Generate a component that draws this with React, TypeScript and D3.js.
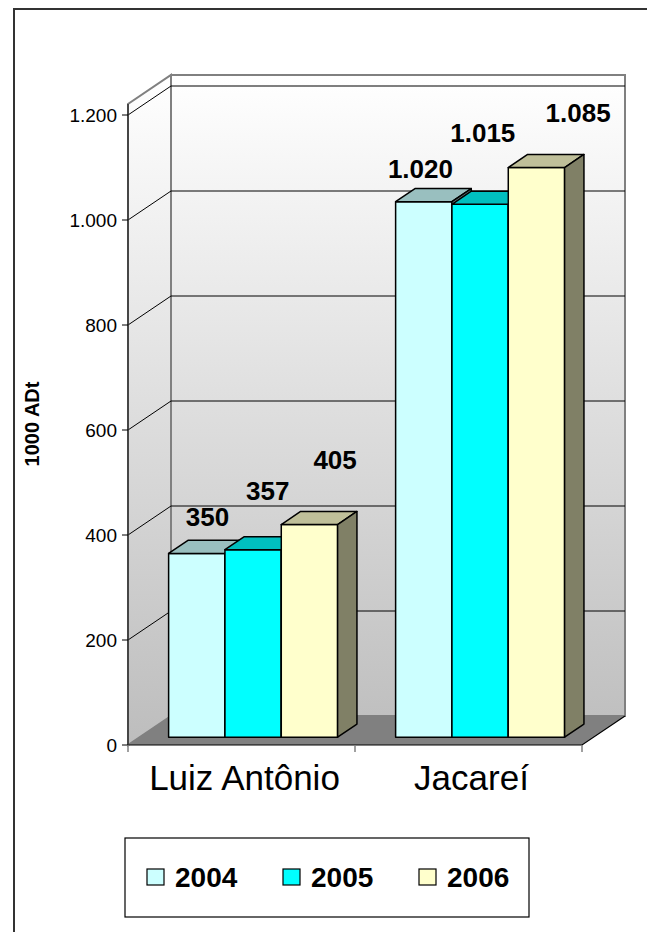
import React from "react";
import * as d3 from "d3";

const categories = ["Luiz Antônio", "Jacareí"];
const seriesNames = ["2004", "2005", "2006"];
const values2004 = [350, 1020];
const values2005 = [357, 1015];
const values2006 = [405, 1085];
const seriesValues = [values2004, values2005, values2006];
const yTicks = [0, 200, 400, 600, 800, 1000, 1200];
const seriesColors = ["#CCFFFF", "#00FFFF", "#FFFFCC"];
const yTitle = "1000 ADt";

// hand placed data labels in the original (offsets from top face centre)
const labelNudge = [
  [[1, -21], [5, -43], [16, -49]],
  [[-13, -17], [-7, -56], [32, -39]],
];

const W = 647;
const H = 932;
const FONT = "'Liberation Sans', Arial, sans-serif";

// 3d box: front plane + depth offset
const plot = { left: 128, right: 582, top: 115, bottom: 745 };
const DX = 43;
const DY = 29;
const f0 = 0.27;
const f1 = 0.72;

const fmt = d3.formatLocale({
  decimal: ",",
  thousands: ".",
  grouping: [3],
  currency: ["", ""],
}).format(",d");

const shade = (c: string, k: number) => {
  const r = d3.rgb(c);
  return d3.rgb(r.r * k, r.g * k, r.b * k).formatHex();
};

const App = () => {
  const y = d3.scaleLinear().domain([0, 1200]).range([plot.bottom, plot.top]);
  const x = d3
    .scaleBand()
    .domain(categories)
    .range([plot.left, plot.right]);
  const xs = d3
    .scaleBand()
    .domain(seriesNames)
    .range([0, x.bandwidth()])
    .paddingOuter(0.515);
  const bw = xs.bandwidth();

  const proj = (px: number, v: number, f: number): [number, number] => [
    px + f * DX,
    y(v) - f * DY,
  ];
  const pts = (arr: [number, number][]) => arr.map((p) => p.join(",")).join(" ");

  const wallTop = plot.top - 11;
  const yMaxV = y.invert(wallTop);

  const bars: JSX.Element[] = [];
  const labels: JSX.Element[] = [];
  categories.forEach((c, ci) => {
    seriesNames.forEach((s, si) => {
      const v = seriesValues[si][ci];
      const x0 = (x(c) as number) + (xs(s) as number);
      const x1 = x0 + bw;
      const col = seriesColors[si];
      const front = [proj(x0, 0, f0), proj(x1, 0, f0), proj(x1, v, f0), proj(x0, v, f0)];
      const top = [proj(x0, v, f0), proj(x1, v, f0), proj(x1, v, f1), proj(x0, v, f1)];
      const side = [proj(x1, 0, f0), proj(x1, 0, f1), proj(x1, v, f1), proj(x1, v, f0)];
      bars.push(
        <g key={c + s} stroke="#000" strokeWidth={1.5} strokeLinejoin="round">
          <polygon points={pts(front)} fill={col} />
          <polygon points={pts(top)} fill={shade(col, 0.75)} />
          <polygon points={pts(side)} fill={shade(col, 0.5)} />
        </g>
      );
      const [cx, cy] = proj((x0 + x1) / 2, v, (f0 + f1) / 2);
      const [nx, ny] = labelNudge[ci][si];
      labels.push(
        <text
          key={"l" + c + s}
          x={cx + nx}
          y={cy + ny}
          textAnchor="middle"
          fontSize={26}
          fontWeight="bold"
          fontFamily={FONT}
          fill="#000"
        >
          {fmt(v)}
        </text>
      );
    });
  });

  const [blx, bly] = proj(plot.left, 0, 1);
  const [brx] = proj(plot.right, 0, 1);
  const backTop = wallTop - DY;

  return (
    <svg
      width={W}
      height={H}
      style={{ position: "absolute", left: 0, top: 0, display: "block" }}
    >
      <defs>
        <linearGradient id="wall" x1="0" y1={backTop} x2="0" y2={plot.bottom} gradientUnits="userSpaceOnUse">
          <stop offset="0" stopColor="#ffffff" />
          <stop offset="1" stopColor="#bdbdbd" />
        </linearGradient>
      </defs>
      <rect width={W} height={H} fill="#fff" />
      {/* outer frame */}
      <path d={`M14,${H} L14,9 L${W},9`} fill="none" stroke="#333" strokeWidth={2} />

      {/* side wall */}
      <polygon
        points={pts([proj(plot.left, 0, 0), proj(plot.left, yMaxV, 0), proj(plot.left, yMaxV, 1), proj(plot.left, 0, 1)])}
        fill="url(#wall)"
        stroke="#808080"
        strokeWidth={2}
      />
      {/* back wall */}
      <polygon
        points={pts([proj(plot.left, 0, 1), proj(plot.left, yMaxV, 1), proj(plot.right, yMaxV, 1), proj(plot.right, 0, 1)])}
        fill="url(#wall)"
        stroke="#808080"
        strokeWidth={2}
      />
      {/* gridlines */}
      {yTicks.filter((t) => t > 0).map((t) => (
        <polyline
          key={t}
          points={pts([proj(plot.left, t, 0), proj(plot.left, t, 1), proj(plot.right, t, 1)])}
          fill="none"
          stroke="#000"
          strokeWidth={1}
        />
      ))}
      {/* floor */}
      <polygon
        points={pts([proj(plot.left, 0, 0), proj(plot.right, 0, 0), proj(plot.right, 0, 1), proj(plot.left, 0, 1)])}
        fill="#808080"
      />
      <line x1={blx} y1={bly} x2={brx} y2={bly} stroke="#808080" strokeWidth={1.5} />
      <polyline
        points={pts([proj(plot.right, 0, 1), proj(plot.right, 0, 0), proj(plot.left, 0, 0)])}
        fill="none"
        stroke="#000"
        strokeWidth={1.2}
      />
      {/* y axis */}
      <line x1={plot.left} y1={wallTop} x2={plot.left} y2={plot.bottom} stroke="#333" strokeWidth={1.5} />
      {yTicks.map((t) => (
        <g key={"t" + t}>
          <line x1={plot.left - 6} x2={plot.left} y1={y(t)} y2={y(t)} stroke="#000" />
          <text
            x={plot.left - 11}
            y={y(t)}
            dy="0.36em"
            textAnchor="end"
            fontSize={19}
            fontFamily={FONT}
            fill="#000"
          >
            {fmt(t)}
          </text>
        </g>
      ))}
      <text
        transform={`translate(39,424) rotate(-90)`}
        textAnchor="middle"
        fontSize={20}
        fontWeight="bold"
        fontFamily={FONT}
        fill="#000"
      >
        {yTitle}
      </text>
      {/* x axis ticks */}
      {[...categories.map((c) => x(c) as number), plot.right].map((px, i) => (
        <line key={"xt" + i} x1={px} x2={px} y1={plot.bottom} y2={plot.bottom + 7} stroke="#808080" strokeWidth={1.5} />
      ))}
      {categories.map((c) => (
        <text
          key={"c" + c}
          x={(x(c) as number) + x.bandwidth() / 2 + 3}
          y={790}
          textAnchor="middle"
          fontSize={35}
          fontFamily={FONT}
          fill="#000"
        >
          {c}
        </text>
      ))}

      {bars}
      {labels}

      {/* legend */}
      <rect x={125} y={838} width={404} height={79} fill="#fff" stroke="#000" strokeWidth={1.2} />
      {seriesNames.map((s, i) => (
        <g key={"lg" + s} transform={`translate(${147 + i * 136},877)`}>
          <rect x={0} y={-8} width={17} height={16} fill={seriesColors[i]} stroke="#000" strokeWidth={1.2} />
          <text x={28} y={0} dy="0.36em" fontSize={28} fontWeight="bold" fontFamily={FONT} fill="#000">
            {s}
          </text>
        </g>
      ))}
    </svg>
  );
};

export default App;
